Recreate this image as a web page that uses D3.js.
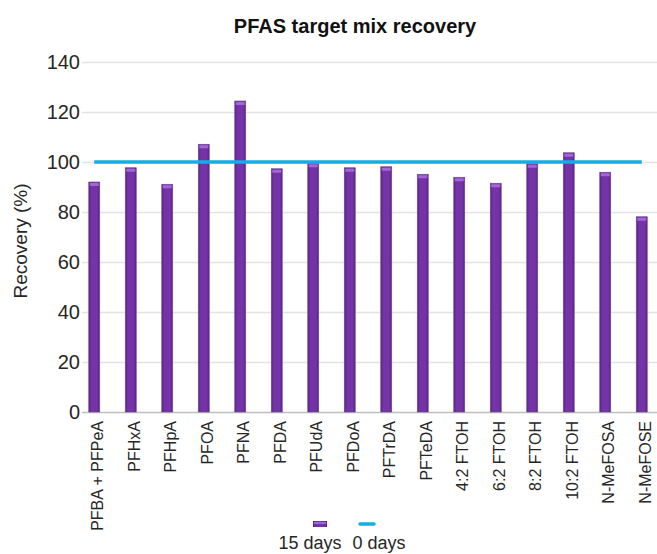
<!DOCTYPE html>
<html>
<head>
<meta charset="utf-8">
<script src="https://cdn.jsdelivr.net/npm/d3@7"></script>
<style>
  body { margin: 0; background: #fff; }
  svg text { font-family: "Liberation Sans", Arial, sans-serif; fill: #262626; }
</style>
</head>
<body>
<div id="chart"></div>
<script>
// datos
let categories = ['PFBA + PFPeA', 'PFHxA', 'PFHpA', 'PFOA', 'PFNA', 'PFDA', 'PFUdA', 'PFDoA',
    'PFTrDA', 'PFTeDA', '4:2 FTOH', '6:2 FTOH', '8:2 FTOH', '10:2 FTOH', 'N-MeFOSA', 'N-MeFOSE'];
let days15 = [92, 97.7, 91.1, 107.1, 124.4, 97.3, 99.5, 97.7, 98.1, 95.1, 93.9, 91.5, 99.3, 103.7, 95.9, 78.1];
let days0 = [100, 100, 100, 100, 100, 100, 100, 100, 100, 100, 100, 100, 100, 100, 100, 100];
let yTicks = [0, 20, 40, 60, 80, 100, 120, 140];
let seriesNames = ['15 days', '0 days'];

let width = 657, height = 554;
let svg = d3.select('#chart').append('svg')
    .attr('width', width)
    .attr('height', height);

// degradado para las barras
let defs = svg.append('defs');
let grad = defs.append('linearGradient').attr('id', 'barGrad').attr('x1', '0%').attr('x2', '100%');
grad.append('stop').attr('offset', '0%').attr('stop-color', '#5c2388');
grad.append('stop').attr('offset', '25%').attr('stop-color', '#7434a8');
grad.append('stop').attr('offset', '75%').attr('stop-color', '#7434a8');
grad.append('stop').attr('offset', '100%').attr('stop-color', '#5c2388');

let x = d3.scaleBand()
    .domain(categories)
    .range([76, 660]);

let y = d3.scaleLinear()
    .domain([0, 140])
    .range([412, 62]);

// titulo
svg.append('text')
    .attr('x', 355)
    .attr('y', 33)
    .attr('text-anchor', 'middle')
    .style('font-weight', 'bold')
    .style('font-size', '20px')
    .style('fill', '#111')
    .text('PFAS target mix recovery');

// eje Y con lineas de cuadricula
let yAxis = svg.append('g')
    .attr('transform', 'translate(82,0)')
    .call(d3.axisLeft(y).tickValues(yTicks).tickSize(0).tickPadding(2));
yAxis.select('.domain').remove();
yAxis.selectAll('.tick text').style('font-size', '20px').style('fill', '#262626');
yAxis.selectAll('.tick line')
    .attr('x2', width - 82)
    .attr('stroke', function(d) { return d === 0 ? '#bfbfbf' : '#e3e3e3'; })
    .attr('stroke-width', 1.3);

svg.append('text')
    .attr('transform', 'translate(27,241) rotate(-90)')
    .attr('text-anchor', 'middle')
    .style('font-size', '19px')
    .text('Recovery (%)');

// barras
let bw = 11;
let bars = svg.append('g').selectAll('g')
    .data(categories)
    .enter()
    .append('g');

bars.append('rect')
    .attr('x', function(d) { return x(d) + x.bandwidth() / 2 - bw / 2; })
    .attr('y', function(d, i) { return y(days15[i]); })
    .attr('width', bw)
    .attr('height', function(d, i) { return y(0) - y(days15[i]); })
    .attr('fill', 'url(#barGrad)')
    .attr('stroke', '#6a4a8a')
    .attr('stroke-width', 0.6);

bars.append('rect')
    .attr('x', function(d) { return x(d) + x.bandwidth() / 2 - bw / 2 + 1; })
    .attr('y', function(d, i) { return y(days15[i]) + 1; })
    .attr('width', bw - 2)
    .attr('height', 3)
    .attr('fill', '#a563dc');

// linea 0 days
let line = d3.line()
    .x(function(d, i) { return x(categories[i]) + x.bandwidth() / 2; })
    .y(function(d) { return y(d); });

svg.append('path')
    .datum(days0)
    .attr('d', line)
    .attr('fill', 'none')
    .attr('stroke', '#14ade6')
    .attr('stroke-width', 3.5);

// etiquetas eje X
let xAxis = svg.append('g')
    .attr('transform', 'translate(0,412)')
    .call(d3.axisBottom(x).tickSize(0).tickPadding(0));
xAxis.select('.domain').remove();
xAxis.selectAll('.tick text')
    .attr('transform', 'rotate(-90)')
    .attr('text-anchor', 'end')
    .attr('x', -9)
    .attr('y', 0)
    .attr('dy', 9)
    .style('font-size', '16px')
    .style('fill', '#262626');

// leyenda
let legend = svg.append('g');
legend.append('rect')
    .attr('x', 313).attr('y', 521)
    .attr('width', 14).attr('height', 6)
    .attr('fill', 'url(#barGrad)');
legend.append('rect')
    .attr('x', 314).attr('y', 522)
    .attr('width', 12).attr('height', 2)
    .attr('fill', '#a563dc');
legend.append('line')
    .attr('x1', 360).attr('x2', 374)
    .attr('y1', 524).attr('y2', 524)
    .attr('stroke', '#14ade6')
    .attr('stroke-width', 3.5)
    .attr('stroke-linecap', 'round');
legend.selectAll('text.leg')
    .data(seriesNames)
    .enter()
    .append('text')
    .attr('class', 'leg')
    .attr('x', function(d, i) { return i === 0 ? 310 : 379; })
    .attr('y', 549)
    .attr('text-anchor', 'middle')
    .style('font-size', '18px')
    .text(function(d) { return d; });
</script>
</body>
</html>
